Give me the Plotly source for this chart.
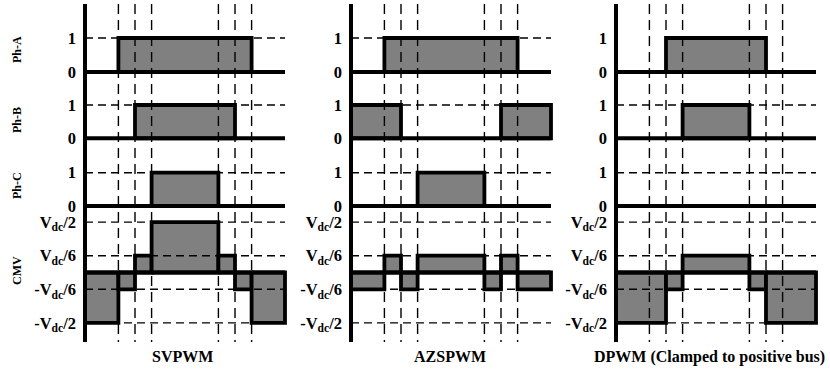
import plotly.graph_objects as go

# Switching instants inside one carrier period (period normalised to 1)
svpwm_t = [0.167, 0.25, 0.333, 0.667, 0.75, 0.833]
azspwm_t = [0.167, 0.25, 0.333, 0.667, 0.75, 0.833]
dpwm_t = [0.167, 0.25, 0.333, 0.667, 0.75, 0.833]

# Switch state of each phase leg in the seven sub-intervals
svpwm_a = [0, 1, 1, 1, 1, 1, 0]
svpwm_b = [0, 0, 1, 1, 1, 0, 0]
svpwm_c = [0, 0, 0, 1, 0, 0, 0]
azspwm_a = [0, 1, 1, 1, 1, 1, 0]
azspwm_b = [1, 1, 0, 0, 0, 1, 1]
azspwm_c = [0, 0, 0, 1, 0, 0, 0]
dpwm_a = [0, 0, 1, 1, 1, 0, 0]
dpwm_b = [0, 0, 0, 1, 0, 0, 0]
dpwm_c = [0, 0, 0, 0, 0, 0, 0]

# Common-mode voltage in each sub-interval, in multiples of Vdc/6
svpwm_cmv = [-3, -1, 1, 3, 1, -1, -3]
azspwm_cmv = [-1, 1, -1, 1, -1, 1, -1]
dpwm_cmv = [-3, -3, -1, 1, -1, -3, -3]

scheme_names = ["SVPWM", "AZSPWM", "DPWM (Clamped to positive bus)"]
row_names = ["Ph-A", "Ph-B", "Ph-C", "CMV"]
phase_levels = [0, 1]
phase_labels = ["0", "1"]
cmv_levels = [3, 1, -1, -3]
cmv_labels = ["V<sub>dc</sub>/2", "V<sub>dc</sub>/6",
              "-V<sub>dc</sub>/6", "-V<sub>dc</sub>/2"]

schemes = [
    (svpwm_t, [svpwm_a, svpwm_b, svpwm_c, svpwm_cmv]),
    (azspwm_t, [azspwm_a, azspwm_b, azspwm_c, azspwm_cmv]),
    (dpwm_t, [dpwm_a, dpwm_b, dpwm_c, dpwm_cmv]),
]
# rows that carry a dashed guide at their non-zero levels
guide_rows = [
    [True, True, True, True],
    [True, True, True, True],
    [False, True, True, True],
]

# ---- layout of the stacked rows (vertical units = pixels of plot area) ----
W, H = 830, 373
TOP, BOTTOM = 4, 31
PLOT_H = H - TOP - BOTTOM
ROW_BASE = [270, 203.7, 136, 69.5]      # height of each row's zero line
ROW_SCALE = [34, 33.3, 33.3, 16.8]      # height of one level unit per row
AXIS_X = [85, 351, 616]                 # left edge of each panel (px)
PANEL_W = 200                           # panel width (px)
PAD = 3                                 # px margin around panels
TITLE_X = [182, 450, 709]               # centre of each panel title (px)
TITLE_Y = 357

GREY = "#808080"
BLACK = "#000000"
SERIF = "Liberation Serif"


def runs(bounds, levels):
    """Merge consecutive equal levels into (start, end, level) runs."""
    out = []
    for i, lv in enumerate(levels):
        a, b = bounds[i], bounds[i + 1]
        if out and out[-1][2] == lv:
            out[-1] = (out[-1][0], b, lv)
        else:
            out.append((a, b, lv))
    return out


fig = go.Figure()
layout_axes = {}

for c, (times, rows) in enumerate(schemes):
    xa = "x" if c == 0 else f"x{c + 1}"
    ya = "y" if c == 0 else f"y{c + 1}"
    bounds = [0.0] + list(times) + [1.0]

    # grey pulses
    for r, levels in enumerate(rows):
        base, sc = ROW_BASE[r], ROW_SCALE[r]
        for a, b, lv in runs(bounds, levels):
            if lv == 0:
                continue
            top = base + sc * lv
            fig.add_trace(go.Scatter(
                x=[a, a, b, b, a], y=[base, top, top, base, base],
                xaxis=xa, yaxis=ya, mode="lines", fill="toself",
                fillcolor=GREY, line=dict(color=BLACK, width=3.8),
                hoverinfo="skip", showlegend=False))

    # dashed horizontal guides at the signal levels
    for r in range(4):
        if not guide_rows[c][r]:
            continue
        base, sc = ROW_BASE[r], ROW_SCALE[r]
        lvls = [1] if r < 3 else cmv_levels
        for lv in lvls:
            yv = base + sc * lv
            fig.add_trace(go.Scatter(
                x=[0, 1], y=[yv, yv], xaxis=xa, yaxis=ya, mode="lines",
                line=dict(color=BLACK, width=1.4, dash="8px,5px"),
                hoverinfo="skip", showlegend=False))

    # dashed vertical lines at the switching instants
    for t in times:
        fig.add_trace(go.Scatter(
            x=[t, t], y=[PLOT_H, 0], xaxis=xa, yaxis=ya, mode="lines",
            line=dict(color=BLACK, width=1.4, dash="10px,6px"),
            hoverinfo="skip", showlegend=False))

    # zero lines of every row
    for r in range(4):
        base = ROW_BASE[r]
        fig.add_trace(go.Scatter(
            x=[0, 1], y=[base, base], xaxis=xa, yaxis=ya, mode="lines",
            line=dict(color=BLACK, width=4),
            hoverinfo="skip", showlegend=False))

    # vertical axis
    fig.add_trace(go.Scatter(
        x=[0, 0], y=[0, PLOT_H], xaxis=xa, yaxis=ya, mode="lines",
        line=dict(color=BLACK, width=4),
        hoverinfo="skip", showlegend=False))

    # tick positions and labels of the stacked rows
    tickvals, ticktext = [], []
    for r in range(3):
        for lv, lab in zip(phase_levels, phase_labels):
            tickvals.append(ROW_BASE[r] + ROW_SCALE[r] * lv)
            ticktext.append(lab)
    for lv, lab in zip(cmv_levels, cmv_labels):
        tickvals.append(ROW_BASE[3] + ROW_SCALE[3] * lv)
        ticktext.append(lab)

    pad_u = PAD / PANEL_W
    x0 = (AXIS_X[c] - PAD) / W
    x1 = (AXIS_X[c] + PANEL_W + PAD) / W
    layout_axes["xaxis" if c == 0 else f"xaxis{c + 1}"] = dict(
        domain=[x0, x1], range=[-pad_u, 1 + pad_u], visible=False,
        anchor=ya, fixedrange=True)
    layout_axes["yaxis" if c == 0 else f"yaxis{c + 1}"] = dict(
        domain=[0, 1], range=[0, PLOT_H], anchor=xa,
        showgrid=False, zeroline=False, showline=False, ticks="",
        tickmode="array", tickvals=tickvals, ticktext=ticktext,
        tickfont=dict(family=SERIF, size=16.5, color=BLACK, weight="bold"),
        ticklabelstandoff=5, automargin=False, fixedrange=True)

annotations = []
# panel titles under each column
for name, px in zip(scheme_names, TITLE_X):
    annotations.append(dict(
        text=f"<b>{name}</b>", xref="paper", yref="paper",
        x=px / W, y=-(TITLE_Y - (H - BOTTOM)) / PLOT_H,
        xanchor="center", yanchor="middle", showarrow=False,
        font=dict(family=SERIF, size=16, color=BLACK)))
# rotated row names on the left
row_label_y = [50, 120, 186, 271]
for name, py in zip(row_names, row_label_y):
    annotations.append(dict(
        text=f"<b>{name}</b>", xref="paper", yref="paper",
        x=17 / W, y=(H - BOTTOM - py) / PLOT_H, textangle=-90,
        xanchor="center", yanchor="middle", showarrow=False,
        font=dict(family=SERIF, size=12, color=BLACK)))

fig.update_layout(
    width=W, height=H,
    margin=dict(l=0, r=0, t=TOP, b=BOTTOM, pad=0),
    paper_bgcolor="white", plot_bgcolor="rgba(0,0,0,0)",
    showlegend=False, annotations=annotations, **layout_axes)

fig.write_html("out.html", config={"displayModeBar": False})
